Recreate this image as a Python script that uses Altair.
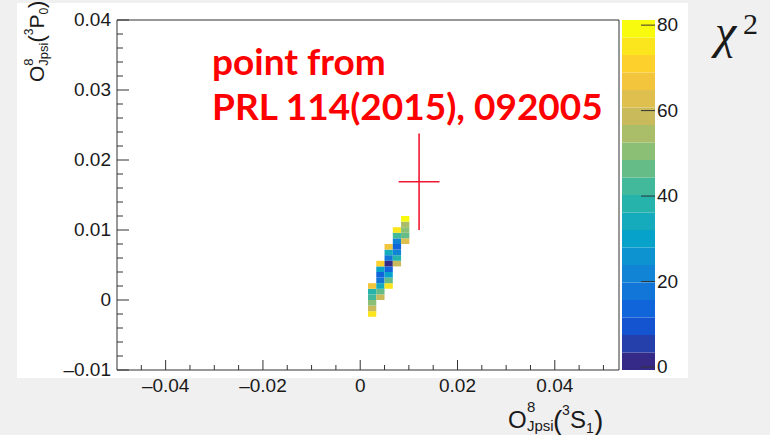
import altair as alt
import pandas as pd

# chi^2 scan cells: one column per O(3S1) bin; chi^2 listed bottom to top
col_x0 = [0.0016, 0.0033, 0.0050, 0.0067, 0.0084]
col_y0 = [-0.0024, 0.0000, 0.0016, 0.0048, 0.0080]
col_chi2 = [
    [76, 60, 50, 44, 38, 68],
    [58, 46, 34, 16, 12, 32, 72],
    [76, 48, 30, 14, 3, 16, 34, 68],
    [58, 38, 22, 14, 20, 42, 76],
    [62, 46, 50, 56, 78],
]
bin_dx = 0.0017
bin_dy = 0.0008

# reference point (PRL 114 (2015) 092005) with its uncertainties
ref_x = [0.0121]
ref_y = [0.0169]
ref_ex = [0.0042]
ref_ey = [0.0069]

# axes
x_domain = [-0.05, 0.0532]
y_domain = [-0.01, 0.04]
x_labels = [-0.04, -0.02, 0, 0.02, 0.04]
y_labels = [-0.01, 0, 0.01, 0.02, 0.03, 0.04]
z_domain = [-0.7, 81.2]
z_labels = [0, 20, 40, 60, 80]
n_contours = 20

W, H = 502, 350
RED = "#ff0000"
INK = "#1a1a1a"
LINE = "#333333"
FONT = "Liberation Sans"

# ROOT kBird (parula-like) palette, sampled into one colour per contour band
bird_r = [0.2082, 0.0592, 0.0780, 0.0232, 0.1802, 0.5301, 0.8186, 0.9956, 0.9764]
bird_g = [0.1664, 0.3599, 0.5041, 0.6419, 0.7178, 0.7492, 0.7328, 0.7862, 0.9832]
bird_b = [0.5293, 0.8684, 0.8385, 0.7914, 0.6425, 0.4662, 0.3499, 0.1968, 0.0539]


def bird(t):
    p = t * (len(bird_r) - 1)
    i = min(int(p), len(bird_r) - 2)
    f = p - i
    rgb = [c[i] + (c[i + 1] - c[i]) * f for c in (bird_r, bird_g, bird_b)]
    return "#" + "".join(f"{round(v * 255):02x}" for v in rgb)


palette = [bird(k / (n_contours - 1)) for k in range(n_contours)]

cells = pd.DataFrame(
    [
        dict(x0=x0, x1=x0 + bin_dx, y0=y0 + k * bin_dy, y1=y0 + (k + 1) * bin_dy, chi2=v)
        for x0, y0, vals in zip(col_x0, col_y0, col_chi2)
        for k, v in enumerate(vals)
    ]
)

ref = pd.DataFrame(
    dict(x=ref_x, y=ref_y,
         xlo=[a - b for a, b in zip(ref_x, ref_ex)], xhi=[a + b for a, b in zip(ref_x, ref_ex)],
         ylo=[a - b for a, b in zip(ref_y, ref_ey)], yhi=[a + b for a, b in zip(ref_y, ref_ey)])
)

step = (z_domain[1] - z_domain[0]) / n_contours
bands = pd.DataFrame(
    dict(lo=[z_domain[0] + k * step for k in range(n_contours)],
         hi=[z_domain[0] + (k + 1) * step for k in range(n_contours)],
         mid=[z_domain[0] + (k + 0.5) * step for k in range(n_contours)])
)

x_minor = [v for v in (round(-0.045 + 0.005 * k, 4) for k in range(20)) if v not in x_labels]
y_minor = [v for v in (round(-0.008 + 0.002 * k, 4) for k in range(24)) if round(v * 100, 6) % 1 != 0 and v < 0.04]


def fmt(v):
    # ROOT-style tick label: "0" for zero, en dash for negatives
    return "0" if v == 0 else ("\u2013" if v < 0 else "") + f"{abs(v):.2f}"


xs = alt.Scale(domain=x_domain, nice=False, zero=False)
ys = alt.Scale(domain=y_domain, nice=False, zero=False)
zs_y = alt.Scale(domain=z_domain, nice=False, zero=False)
zs_c = alt.Scale(type="quantize", domain=z_domain, range=palette)

one = pd.DataFrame({"k": [0]})


def txt(text, x, y, size, angle=0, font=FONT, color=INK, style="normal", weight="normal"):
    return alt.Chart(one).mark_text(
        text=text, fontSize=size, font=font, color=color, angle=angle,
        fontStyle=style, fontWeight=weight, align="left", baseline="alphabetic",
    ).encode(x=alt.value(x), y=alt.value(y))


panel = alt.Chart(one).mark_rect(color="white").encode(
    x=alt.value(-100), x2=alt.value(571), y=alt.value(-17), y2=alt.value(358))

heat = alt.Chart(cells).mark_rect().encode(
    x=alt.X("x0:Q", scale=xs, axis=None), x2="x1:Q",
    y=alt.Y("y0:Q", scale=ys, axis=None), y2="y1:Q",
    color=alt.Color("chi2:Q", scale=zs_c, legend=None),
)

frame = alt.Chart(one).mark_rect(filled=False, stroke=LINE, strokeWidth=1).encode(
    x=alt.value(0), x2=alt.value(W), y=alt.value(0), y2=alt.value(H))


def xticks(vals, length):
    return alt.Chart(pd.DataFrame({"v": vals})).mark_rule(color=LINE, strokeWidth=1).encode(
        x=alt.X("v:Q", scale=xs, axis=None), y=alt.value(H), y2=alt.value(H - length))


def yticks(vals, length):
    return alt.Chart(pd.DataFrame({"v": vals})).mark_rule(color=LINE, strokeWidth=1).encode(
        y=alt.Y("v:Q", scale=ys, axis=None), x=alt.value(0), x2=alt.value(length))


x_ticklabels = alt.Chart(pd.DataFrame({"v": x_labels, "t": [fmt(v) for v in x_labels]})).mark_text(
    fontSize=19, font=FONT, color=INK, align="center", baseline="top").encode(
    x=alt.X("v:Q", scale=xs, axis=None), y=alt.value(H + 7), text="t:N")

y_ticklabels = alt.Chart(pd.DataFrame({"v": y_labels, "t": [fmt(v) for v in y_labels]})).mark_text(
    fontSize=19, font=FONT, color=INK, align="right", baseline="middle").encode(
    y=alt.Y("v:Q", scale=ys, axis=None), x=alt.value(-6), text="t:N")

cross_h = alt.Chart(ref).mark_rule(color="#f01830", strokeWidth=1.6).encode(
    x=alt.X("xlo:Q", scale=xs, axis=None), x2="xhi:Q", y=alt.Y("y:Q", scale=ys, axis=None))
cross_v = alt.Chart(ref).mark_rule(color="#f01830", strokeWidth=1.6).encode(
    x=alt.X("x:Q", scale=xs, axis=None), y=alt.Y("ylo:Q", scale=ys, axis=None), y2="yhi:Q")

note = [
    txt("point from", 95, 55, 37, font="Lato", color=RED, weight="bold"),
    txt("PRL 114(2015), 092005", 95, 100, 37, font="Lato", color=RED, weight="bold"),
]

# x-axis title O^8_Jpsi(^3S_1)
x_title = [
    txt("O", 391, 408, 24), txt("8", 410, 392, 15), txt("Jpsi", 410, 411, 15),
    txt("(", 436, 410, 28), txt("3", 445, 395, 14), txt("S", 453, 408, 24),
    txt("1", 469, 413, 14), txt(")", 477, 410, 28),
]

# y-axis title O^8_Jpsi(^3P_0), reading upwards
y_title = [
    txt("O", -73, 62, 21, angle=270), txt("8", -84, 45.7, 13, angle=270),
    txt("Jpsi", -69.5, 45.7, 13, angle=270), txt("(", -73, 22.6, 22, angle=270),
    txt("3", -84, 15.3, 12, angle=270), txt("P", -73, 8.6, 21, angle=270),
    txt("0", -69.5, -5.4, 12, angle=270), txt(")", -73, -12.1, 22, angle=270),
]

chi_label = [
    txt("\u03c7", 598, 28, 48, font="Liberation Serif", style="italic"),
    txt("2", 626, 14, 30, font="Liberation Serif"),
]

main = alt.layer(
    panel, heat, frame,
    xticks(x_labels, 10), xticks(x_minor, 5),
    yticks(y_labels, 12), yticks(y_minor, 6),
    x_ticklabels, y_ticklabels,
    cross_h, cross_v,
    *note, *x_title, *y_title, *chi_label,
)

colorbar = alt.layer(
    alt.Chart(bands).mark_rect().encode(
        x=alt.value(505), x2=alt.value(538),
        y=alt.Y("lo:Q", scale=zs_y, axis=None), y2="hi:Q",
        color=alt.Color("mid:Q", scale=zs_c, legend=None),
    ),
    alt.Chart(pd.DataFrame({"v": z_labels})).mark_rule(color=LINE, strokeWidth=1).encode(
        y=alt.Y("v:Q", scale=zs_y, axis=None), x=alt.value(524), x2=alt.value(538)),
    alt.Chart(pd.DataFrame({"v": z_labels, "t": [str(v) for v in z_labels]})).mark_text(
        fontSize=19, font=FONT, color=INK, align="left", baseline="middle").encode(
        y=alt.Y("v:Q", scale=zs_y, axis=None), x=alt.value(540), text="t:N"),
)

chart = (
    alt.layer(main, colorbar)
    .resolve_scale(y="independent")
    .properties(
        width=W, height=H,
        autosize=alt.AutoSizeParams(type="none"),
        padding={"left": 117, "top": 20, "right": 151, "bottom": 65},
        background="#f0f0f0",
    )
    .configure_view(stroke=None)
)

chart.save("out.html", embed_options={"renderer": "svg", "actions": False})
